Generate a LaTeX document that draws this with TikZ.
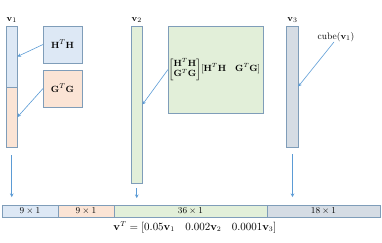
\documentclass[tikz,border=0pt]{standalone}
\usepackage{amsmath}
\usetikzlibrary{arrows.meta}
\definecolor{cblue}{HTML}{DDE8F5}
\definecolor{corange}{HTML}{FBE4D5}
\definecolor{cgreen}{HTML}{E2EFD9}
\definecolor{cgray}{HTML}{D5DCE4}
\definecolor{cborder}{HTML}{7F9DB9}
\definecolor{carrow}{HTML}{5B9BD5}
\begin{document}
\begin{tikzpicture}[x=1pt,y=-1pt,
  box/.style={draw=cborder, line width=0.8pt, inner sep=0pt, outer sep=0pt, font=\fontsize{9.5}{11}\selectfont},
  lbl/.style={inner sep=0pt, font=\fontsize{9.5}{11}\selectfont},
  arr/.style={draw=carrow, line width=0.6pt, -{Stealth[length=3.5pt,width=3.5pt]}}]
\useasboundingbox (0,0) rectangle (382,242);
% v1
\node[box, fill=cblue, minimum width=11.5pt, minimum height=61pt] (v1top) at (11.75,56.5) {};
\node[box, fill=corange, minimum width=11.5pt, minimum height=60pt] (v1bot) at (11.75,117) {};
\node[lbl, anchor=south] (v1lab) at (11.75,23) {$\mathbf{v}_1$};
\node[box, fill=cblue, minimum width=39pt, minimum height=37pt] (hth) at (62.5,44.5) {$\mathbf{H}^T\mathbf{H}$};
\node[box, fill=corange, minimum width=39pt, minimum height=37pt] (gtg) at (62.5,88.5) {$\mathbf{G}^T\mathbf{G}$};
% v2
\node[box, fill=cgreen, minimum width=11.5pt, minimum height=157pt] (v2) at (136.75,104.5) {};
\node[lbl, anchor=south] (v2lab) at (136.75,23) {$\mathbf{v}_2$};
\node[box, fill=cgreen, minimum width=95pt, minimum height=87pt] (big) at (215.5,69.5) {};
\node[lbl, anchor=west, font=\fontsize{9}{11}\selectfont] (bigtext) at (168.5,69.5) {$\begin{bmatrix}\mathbf{H}^T\mathbf{H}\\[-1pt] \mathbf{G}^T\mathbf{G}\end{bmatrix}\![\mathbf{H}^T\mathbf{H}\quad \mathbf{G}^T\mathbf{G}]$};
% v3
\node[box, fill=cgray, minimum width=11.5pt, minimum height=121pt] (v3) at (292.5,86.5) {};
\node[lbl, anchor=south] (v3lab) at (292.5,23) {$\mathbf{v}_3$};
\node[lbl] (cube) at (336,37) {cube($\mathbf{v}_1$)};
% bottom bar
\node[box, fill=cblue, minimum width=56pt, minimum height=12pt] (s1) at (30,211) {$9\times1$};
\node[box, fill=corange, minimum width=56pt, minimum height=12pt] (s2) at (86,211) {$9\times1$};
\node[box, fill=cgreen, minimum width=153pt, minimum height=12pt] (s3) at (190.5,211) {$36\times1$};
\node[box, fill=cgray, minimum width=113pt, minimum height=12pt] (s4) at (323.5,211) {$18\times1$};
\node[lbl, font=\fontsize{10.5}{12}\selectfont] (vt) at (195,227) {$\mathbf{v}^T=[0.05\mathbf{v}_1\quad 0.002\mathbf{v}_2\quad 0.0001\mathbf{v}_3]$};
% connectors
\draw[arr] (hth.west) -- (v1top.east);
\draw[arr] (gtg.west) -- (v1bot.east);
\draw[arr] (big.west) -- (v2.east);
\draw[arr] ([xshift=-2pt]cube.south) -- (v3.east);
\draw[arr, shorten <=8pt, shorten >=8pt] (v1bot.south) -- (v1bot.south |- s1.north);
\draw[arr, shorten <=5pt, shorten >=7pt] (v2.south) -- (v2.south |- s3.north);
\draw[arr, shorten <=7pt, shorten >=8pt] (v3.south) -- (v3.south |- s4.north);
\end{tikzpicture}
\end{document}
